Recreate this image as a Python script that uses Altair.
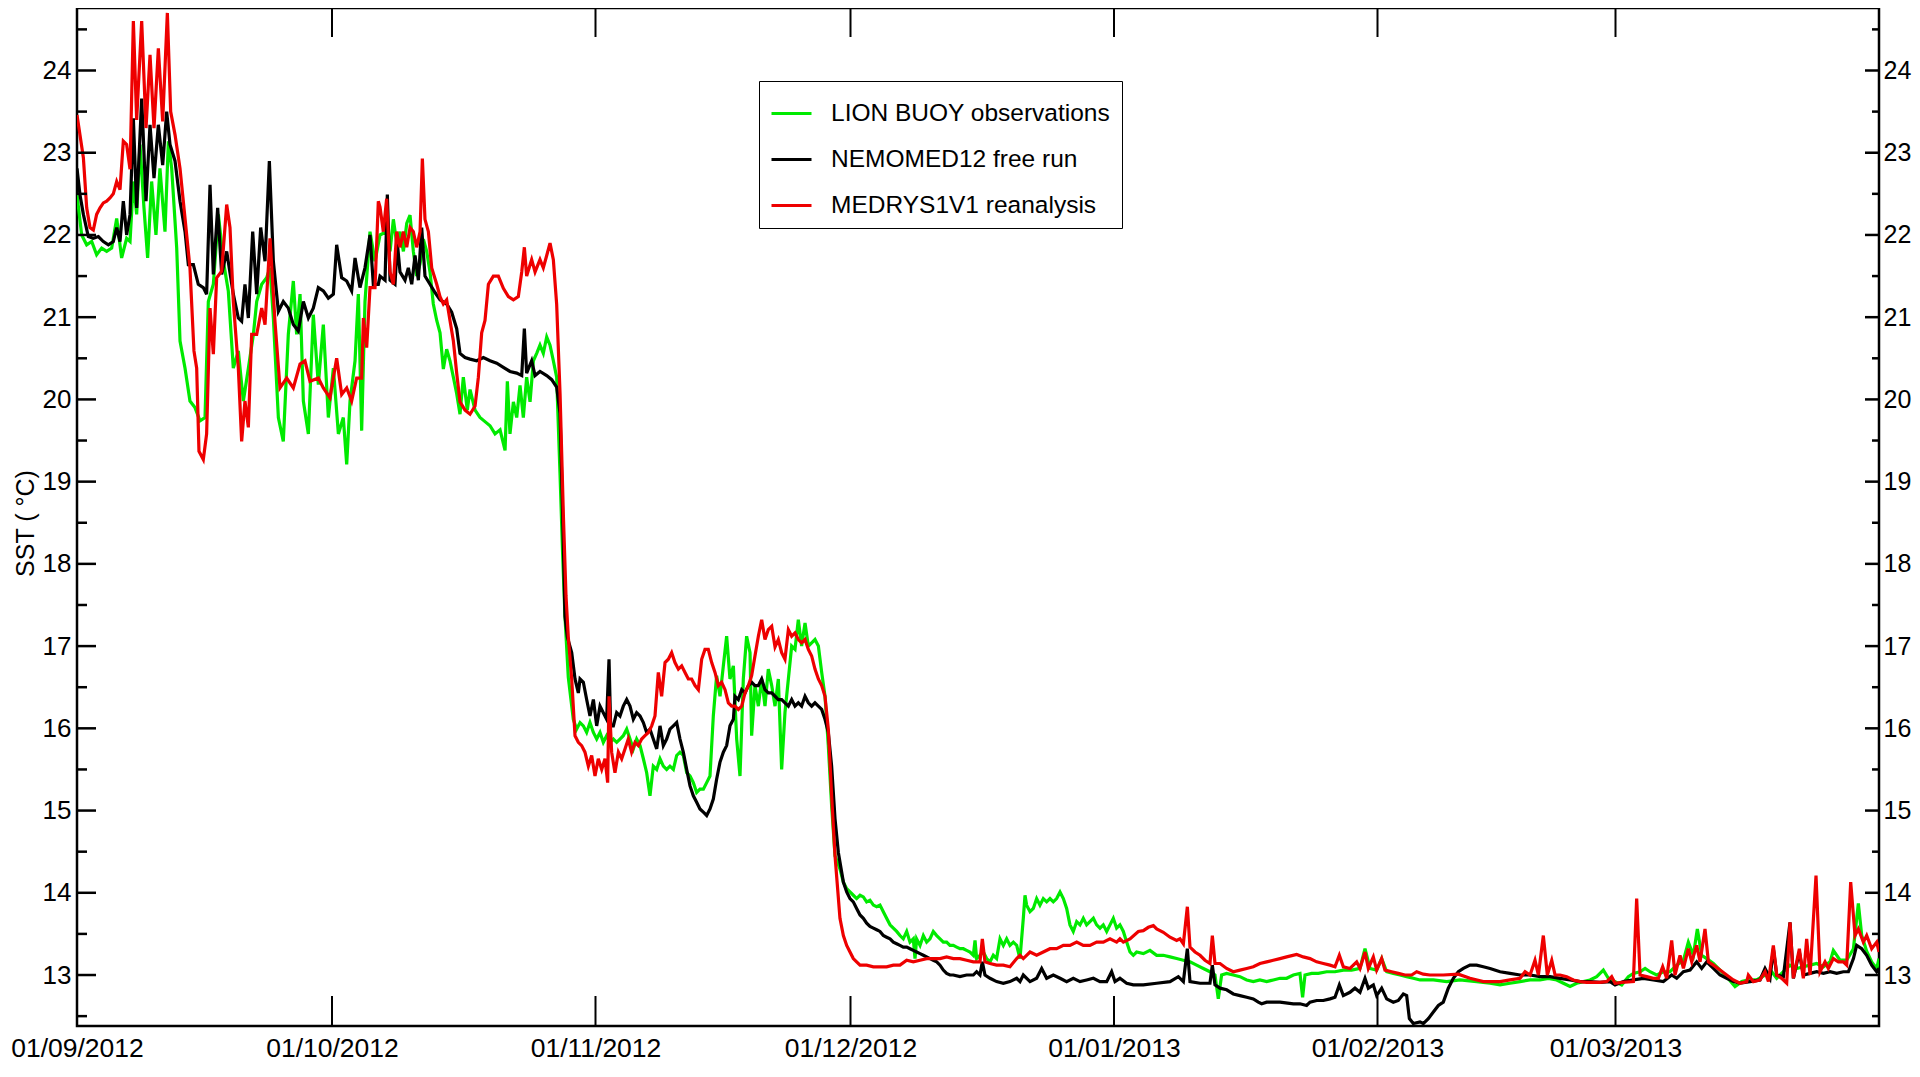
import altair as alt
import pandas as pd

# (days since 01/09/2012, SST in degC)
OBS = [
(0.0,22.49),(0.55,22.0),(1.14,21.88),(1.73,21.92),(2.31,21.76),(2.9,21.84),(3.49,21.8),(4.08,21.84),(4.67,22.2),(5.25,21.72),(5.84,21.96),(6.24,21.92),(6.63,22.65),(7.02,22.25),(7.41,23.1),(7.88,22.33),(8.31,21.72),(8.78,22.65),(9.29,22.0),(9.76,22.81),(10.35,22.04),(10.75,23.14),(11.14,22.81),(11.73,21.84),(12.12,20.71),(12.71,20.38),(13.29,19.98),(13.88,19.9),(14.47,19.74),(15.06,19.78),(15.45,21.19),(16.04,21.4),(16.63,22.25),(17.22,21.68),(17.8,21.32),(18.39,20.38),(18.98,20.59),(19.57,19.98),(20.16,20.38),(20.75,20.79),(21.14,21.19),(21.73,21.4),(22.31,21.48),(22.71,21.6),(23.1,20.99),(23.69,19.78),(24.27,19.49),(24.86,20.79),(25.45,21.44),(25.84,20.79),(26.24,21.28),(26.63,19.98),(27.22,19.58),(27.8,21.03),(28.39,20.18),(28.98,20.91),(29.57,19.78),(30.16,20.38),(30.75,19.58),(31.33,19.78),(31.73,19.21),(32.12,19.98),(32.71,20.47),(33.1,21.28),(33.49,19.62),(33.88,21.19),(34.47,22.04),(35.06,21.68),(35.65,22.0),
(36.43,22.04),(36.83,21.8),(37.22,22.19),(37.61,21.9),(38.0,22.04),(38.4,21.8),(38.79,22.14),(39.18,22.24),(39.57,21.8),(39.96,21.5),(40.36,21.65),(40.75,21.95),(41.14,21.8),(41.53,21.55),(41.92,21.16),(42.32,20.96),(42.71,20.81),(43.1,20.37),(43.49,20.61),(43.88,20.47),(44.28,20.27),(44.67,20.07),(45.06,19.82),(45.45,20.27),(45.92,19.87),(46.24,20.12),(46.83,19.87),(47.41,19.78),(48.0,19.73),(48.59,19.68),(49.18,19.58),(49.77,19.63),(50.36,19.38),(50.63,20.22),(50.94,19.58),(51.34,19.97),(51.73,19.78),(52.12,20.17),(52.51,19.78),(52.9,20.27),(53.3,19.97),(53.69,20.47),(54.08,20.56),(54.47,20.66),(54.86,20.56),(55.26,20.76),(55.65,20.66),(56.04,20.47),(56.43,20.27),(56.83,19.08),(57.14,18.1),(57.41,17.36),(57.8,16.62),
(58.39,16.11),(58.78,15.99),(59.18,16.07),(59.57,16.03),(59.96,15.95),(60.35,16.07),(60.75,15.95),(61.14,15.87),(61.53,15.95),(61.92,15.83),(62.31,15.91),(62.71,15.83),(63.1,15.87),(63.49,15.83),(63.88,15.87),(64.27,15.91),(64.67,15.99),(65.06,15.87),(65.45,15.75),(65.84,15.87),(66.24,15.79),(66.63,15.63),(67.02,15.46),(67.41,15.18),(67.8,15.54),(68.2,15.5),(68.59,15.63),(68.98,15.54),(69.37,15.5),(69.76,15.54),(70.16,15.5),(70.55,15.67),(70.94,15.71),(71.33,15.67),(71.73,15.46),(72.12,15.42),(72.51,15.34),(72.9,15.22),(73.29,15.26),(73.69,15.26),(74.08,15.34),(74.47,15.42),(74.86,16.15),(75.25,16.64),(75.65,16.39),(76.04,16.76),(76.43,17.12),(76.82,16.6),(77.22,16.76),(77.61,15.87),(78.0,15.42),(78.39,16.6),(78.78,17.12),(79.18,16.92),(79.37,15.91),(79.76,16.52),(80.16,16.27),(80.55,16.6),(80.94,16.27),(81.33,16.72),(81.73,16.52),(82.12,16.27),(82.51,16.6),(82.9,15.5),(83.29,16.19),(83.69,16.6),(84.08,17.0),(84.47,16.96),(84.86,17.32),(85.25,17.0),(85.65,17.28),(86.04,17.0),(86.43,17.04),(86.82,17.08),(87.22,17.0),(87.61,16.68),(88.0,16.39),(88.39,15.79),(88.78,15.06),(89.18,14.45),
(89.76,14.29),(90.16,14.13),(90.55,14.05),(90.94,14.01),(91.33,13.97),(91.72,13.93),(92.12,13.97),(92.51,13.95),(92.9,13.89),(93.29,13.91),(93.69,13.85),(94.08,13.83),(94.47,13.85),(94.86,13.77),(95.25,13.69),(95.65,13.61),(96.04,13.57),(96.43,13.53),(96.82,13.48),(97.21,13.44),(97.61,13.53),(98.0,13.4),(98.39,13.44),(98.59,13.2),(98.78,13.44),(99.18,13.36),(99.57,13.48),(99.96,13.4),(100.35,13.44),(100.74,13.53),(101.14,13.48),(101.53,13.44),(101.92,13.4),(102.31,13.4),(102.7,13.36),(103.1,13.36),(103.49,13.34),(103.88,13.32),(104.27,13.32),(104.66,13.3),(105.06,13.28),(105.45,13.24),(105.65,13.42),(105.84,13.2),(106.23,13.24),(106.62,13.28),(107.02,13.2),(107.41,13.16),(107.8,13.24),(108.19,13.2),(108.59,13.44),(108.98,13.36),(109.37,13.44),(109.76,13.36),(110.16,13.4),(110.55,13.36),(110.94,13.2),(111.33,13.69),(111.53,13.97),(111.72,13.85),(112.12,13.77),(112.51,13.81),(112.9,13.93),(113.29,13.85),(113.68,13.93),(114.08,13.89),(114.47,13.93),(114.86,13.89),(115.25,13.93),(115.65,14.01),(116.04,13.93),(116.43,13.81),(116.82,13.61),(117.21,13.53),(117.61,13.65),(118.0,13.61),(118.39,13.69),(118.78,13.61),(119.17,13.65),(119.57,13.69),(119.96,13.61),(120.35,13.57),(120.74,13.61),(121.14,13.53),(121.53,13.61),(121.92,13.69),(122.31,13.57),(122.7,13.61),(123.1,13.53),(123.49,13.4),(123.88,13.28),(124.27,13.24),
(124.66,13.28),(125.45,13.26),(126.23,13.3),(127.02,13.24),(127.8,13.24),(128.59,13.22),(129.37,13.2),(130.16,13.18),(130.94,13.16),(131.72,13.12),(132.51,13.08),(133.29,13.04),(133.88,13.0),(134.27,12.71),(134.66,13.0),(135.25,13.02),(136.04,13.0),(136.82,12.98),(137.61,12.94),(138.39,12.92),(139.17,12.94),(139.96,12.92),(140.74,12.94),(141.53,12.96),(142.31,12.96),(143.1,13.0),(143.88,13.02),(144.19,12.73),(144.47,13.0),(145.25,13.02),(146.04,13.02),(147.02,13.04),(148.0,13.04),(148.98,13.06),(149.96,13.06),(150.94,13.08),(151.53,13.32),(152.12,13.08),(152.9,13.06),(153.49,13.2),(154.08,13.04),(154.86,13.02),(155.65,13.0),(156.43,12.98),(157.21,12.96),(158.0,12.94),(159.57,12.94),(161.14,12.92),(162.7,12.94),(164.66,12.92),(166.24,12.9),
(167.42,12.88),(168.59,12.9),(169.77,12.92),(170.95,12.94),(172.12,12.94),(173.1,12.96),(174.08,12.94),(174.87,12.9),(175.65,12.86),(176.44,12.9),(177.22,12.92),(178.0,12.94),(178.79,12.98),(179.57,13.06),(180.16,12.96),(180.95,12.92),(181.73,12.88),(182.51,12.98),(183.1,13.02),(183.89,13.04),(184.48,13.08),(185.06,13.04),(185.85,13.0),(186.63,13.04),(187.42,13.04),(188.2,13.12),(188.99,13.18),(189.57,13.4),(190.16,13.24),(190.63,13.56),(191.14,13.24),(191.73,13.2),(192.52,13.14),(193.3,13.06),(194.08,12.98),(195.06,12.86),(195.85,12.92),(196.63,12.94),(197.61,12.94),(198.59,13.0),(199.38,13.04),(199.97,12.96),(200.75,13.04),(201.53,13.12),(202.32,13.08),(203.1,13.1),(203.89,13.12),(204.67,13.14),(205.46,13.1),(206.24,13.16),(206.63,13.3),(207.42,13.18),(208.2,13.18),(208.99,13.32),(209.57,13.87),(209.97,13.48),(210.55,13.29),(211.14,13.16),(211.73,13.08),(212.0,13.2),
]

NEMO = [
(0.0,22.81),(0.35,22.49),(0.75,22.25),(1.33,21.98),(1.92,21.96),(2.51,21.98),(3.1,21.92),(3.69,21.88),(4.27,21.92),(4.67,22.09),(5.06,21.92),(5.45,22.41),(5.84,22.0),(6.24,22.25),(6.63,23.42),(7.02,22.33),(7.61,23.66),(8.12,22.41),(8.59,23.34),(9.06,22.69),(9.57,23.34),(10.08,22.85),(10.55,23.5),(10.94,23.1),(11.53,22.9),(12.12,22.41),(12.71,22.04),(13.1,21.64),(13.69,21.64),(14.27,21.4),(14.86,21.36),(15.25,21.28),(15.65,22.61),(16.04,21.52),(16.55,22.33),(17.02,21.52),(17.61,21.8),(18.39,21.28),(18.98,20.99),(19.37,20.95),(19.76,21.4),(20.16,20.99),(20.67,22.04),(21.14,21.28),(21.61,22.09),(22.12,21.68),(22.63,22.9),(23.1,21.68),(23.69,21.07),(24.27,21.19),(24.86,21.11),(25.45,20.91),(26.04,20.83),(26.63,21.19),(27.22,20.99),(27.8,21.11),(28.39,21.36),(28.98,21.32),(29.57,21.23),(30.16,21.28),(30.55,21.88),(31.14,21.48),(31.73,21.44),(32.31,21.32),(32.71,21.72),(33.29,21.36),(33.88,21.6),(34.47,22.0),(34.86,21.4),(35.45,21.4),
(35.65,21.5),(36.24,21.45),(36.51,22.49),(36.83,21.45),(37.41,21.4),(37.69,21.9),(38.0,21.55),(38.59,21.45),(38.98,21.6),(39.38,21.4),(39.77,21.75),(40.16,21.45),(40.55,22.09),(40.94,21.5),(41.53,21.4),(42.12,21.3),(42.71,21.21),(43.49,21.16),(44.08,21.06),(44.67,20.86),(45.06,20.56),(45.65,20.51),(46.24,20.49),(47.02,20.47),(47.81,20.51),(48.59,20.47),(49.38,20.44),(50.16,20.39),(50.94,20.34),(51.73,20.32),(52.32,20.29),(52.63,20.86),(52.9,20.32),(53.49,20.47),(53.89,20.29),(54.47,20.34),(55.26,20.29),(55.85,20.24),(56.43,20.15),(56.83,19.83),(57.14,18.59),(57.41,17.36),(57.69,17.11),
(58.2,16.92),(58.59,16.6),(58.98,16.43),(59.18,16.6),(59.57,16.56),(59.96,16.35),(60.35,16.15),(60.75,16.35),(61.14,16.03),(61.53,16.27),(61.92,16.19),(62.31,16.11),(62.59,16.84),(62.78,16.03),(63.1,16.03),(63.49,16.19),(63.88,16.15),(64.27,16.27),(64.67,16.35),(65.06,16.27),(65.45,16.11),(65.84,16.19),(66.24,16.15),(66.63,16.07),(67.02,15.95),(67.41,15.99),(67.8,15.87),(68.2,15.75),(68.59,16.03),(68.98,15.79),(69.37,15.87),(69.76,15.99),(70.16,16.03),(70.55,16.07),(70.94,15.87),(71.33,15.71),(71.73,15.5),(72.12,15.3),(72.51,15.18),(72.9,15.1),(73.29,15.02),(73.69,14.98),(74.08,14.94),(74.47,15.02),(74.86,15.14),(75.25,15.38),(75.65,15.59),(76.04,15.71),(76.43,15.79),(76.82,16.03),(77.22,16.11),(77.41,16.39),(77.8,16.35),(78.2,16.47),(78.59,16.43),(78.98,16.52),(79.37,16.56),(79.76,16.52),(80.16,16.52),(80.55,16.6),(80.94,16.47),(81.33,16.43),(81.73,16.43),(82.12,16.39),(82.51,16.35),(82.9,16.35),(83.29,16.31),(83.69,16.27),(84.08,16.35),(84.47,16.27),(84.86,16.31),(85.25,16.27),(85.65,16.39),(86.04,16.31),(86.43,16.27),(86.82,16.31),(87.22,16.27),(87.61,16.23),(88.0,16.11),(88.39,15.95),(88.78,15.54),(89.18,14.9),(89.57,14.49),
(90.16,14.13),(90.55,14.01),(90.94,13.93),(91.33,13.89),(91.72,13.81),(92.12,13.73),(92.51,13.69),(92.9,13.63),(93.29,13.59),(93.69,13.57),(94.08,13.55),(94.47,13.53),(94.86,13.48),(95.25,13.46),(95.65,13.44),(96.04,13.4),(96.43,13.38),(96.82,13.36),(97.21,13.34),(97.61,13.34),(98.0,13.32),(98.39,13.3),(98.78,13.28),(99.18,13.26),(99.57,13.24),(99.96,13.22),(100.35,13.2),(100.74,13.18),(101.14,13.16),(101.53,13.12),(101.92,13.06),(102.31,13.02),(102.7,13.0),(103.1,13.0),(103.88,12.98),(104.66,13.0),(105.45,13.0),(105.84,13.04),(106.23,13.0),(106.51,13.16),(106.82,13.0),(107.41,12.96),(108.19,12.92),(108.98,12.9),(109.76,12.92),(110.55,12.96),(110.94,12.92),(111.33,13.0),(112.12,12.92),(112.9,12.96),(113.49,13.08),(114.08,12.96),(114.86,13.0),(115.65,12.96),(116.43,12.92),(117.21,12.96),(118.0,12.92),(118.78,12.94),(119.57,12.96),(120.35,12.92),(121.14,12.92),(121.72,13.04),(122.12,12.92),(122.7,12.96),(123.49,12.9),(124.27,12.88),
(125.45,12.88),(127.02,12.9),(128.59,12.92),(129.57,12.98),(130.16,12.92),(130.63,13.32),(130.94,12.92),(132.12,12.9),(133.29,12.9),(133.57,13.12),(133.88,12.88),(134.47,12.84),(135.25,12.82),(136.04,12.77),(136.82,12.75),(137.61,12.73),(138.39,12.71),(138.98,12.67),(139.37,12.65),(139.96,12.67),(141.53,12.67),(143.1,12.65),(143.88,12.65),(144.66,12.63),(145.06,12.67),(145.84,12.69),(146.63,12.69),(147.41,12.71),(148.0,12.73),(148.51,12.88),(148.98,12.75),(149.76,12.79),(150.35,12.84),(150.94,12.79),(151.53,12.96),(151.92,12.84),(152.51,12.88),(152.9,12.75),(153.49,12.84),(154.08,12.71),(154.86,12.67),(155.45,12.69),(156.04,12.77),(156.43,12.75),(156.75,12.47),(157.21,12.41),(158.0,12.43),(158.39,12.41),(158.98,12.47),(159.57,12.55),(160.16,12.63),(160.74,12.67),(161.33,12.84),(161.92,12.96),(162.51,13.04),(163.1,13.08),(163.88,13.12),(164.66,13.12),(165.45,13.1),
(166.24,13.08),(167.42,13.04),(168.59,13.02),(169.77,13.0),(170.95,13.0),(172.12,12.98),(173.3,12.98),(174.48,12.96),(175.65,12.94),(176.83,12.92),(178.0,12.92),(179.18,12.91),(180.36,12.92),(180.95,12.88),(181.93,12.92),(183.1,12.94),(184.28,12.96),(185.46,12.94),(186.63,12.92),(187.61,13.0),(188.2,12.96),(188.99,13.04),(189.77,13.06),(190.55,13.16),(191.14,13.08),(191.73,13.16),(192.52,13.08),(193.3,13.0),(194.08,12.96),(194.87,12.92),(195.65,12.9),(196.83,12.92),(198.0,12.94),(198.59,13.08),(199.18,12.96),(199.57,13.32),(199.97,13.0),(200.75,12.98),(201.53,13.64),(201.93,12.96),(202.63,13.28),(203.1,13.0),(203.89,13.02),(204.67,13.04),(205.46,13.02),(206.24,13.04),(207.02,13.02),(207.81,13.04),(208.4,13.04),(208.99,13.2),(209.37,13.36),(209.97,13.32),(210.55,13.24),(211.14,13.12),(211.73,13.04),(212.0,13.08),
]

MEDRYS = [
(0.0,23.46),(0.75,22.94),(1.14,22.33),(1.53,22.09),(1.92,22.06),(2.31,22.25),(2.71,22.33),(3.1,22.39),(3.49,22.41),(3.88,22.45),(4.27,22.5),(4.67,22.65),(5.06,22.55),(5.45,23.14),(5.84,23.1),(6.24,22.8),(6.63,24.6),(7.02,23.4),(7.61,24.6),(8.12,23.3),(8.59,24.19),(9.06,23.3),(9.57,24.27),(10.08,23.38),(10.63,24.7),(11.02,23.5),(11.53,23.22),(12.12,22.81),(12.71,22.2),(13.29,21.6),(13.76,20.59),(14.08,20.38),(14.35,19.37),(14.86,19.27),(15.25,19.58),(15.65,21.11),(16.04,20.55),(16.43,21.48),(17.02,21.56),(17.61,22.37),(18.0,22.09),(18.39,21.19),(18.98,20.38),(19.37,19.49),(19.76,19.98),(20.16,19.66),(20.55,20.79),(21.14,20.79),(21.73,21.11),(22.12,20.91),(22.71,21.96),(23.29,20.95),(23.88,20.14),(24.67,20.26),(25.45,20.14),(26.24,20.43),(26.82,20.47),(27.41,20.22),(28.39,20.26),(28.98,20.14),(29.76,20.02),(30.55,20.5),(31.14,20.06),(31.73,20.14),(32.31,19.98),(32.9,20.26),(33.49,20.26),(33.69,20.99),(34.08,20.63),(34.47,21.36),(35.06,21.36),(35.45,22.41),
(35.65,22.34),(36.04,22.04),(36.43,22.44),(36.83,21.55),(37.22,21.4),(37.61,22.04),(38.0,21.85),(38.4,22.04),(38.79,21.85),(39.18,22.09),(39.57,22.04),(39.96,21.85),(40.36,22.04),(40.63,22.93),(40.94,22.19),(41.34,22.04),(41.73,21.6),(42.32,21.4),(42.71,21.25),(43.1,21.16),(43.49,21.21),(43.88,20.96),(44.28,20.71),(44.67,20.32),(45.06,19.97),(45.65,19.87),(46.24,19.82),(46.83,19.92),(47.22,20.27),(47.61,20.81),(48.0,20.96),(48.4,21.4),(48.98,21.5),(49.57,21.5),(50.16,21.35),(50.75,21.25),(51.34,21.21),(51.92,21.25),(52.32,21.55),(52.63,21.85),(52.9,21.5),(53.49,21.7),(53.89,21.55),(54.47,21.7),(54.86,21.6),(55.26,21.75),(55.65,21.9),(56.04,21.7),(56.43,21.16),(56.83,20.07),(57.22,18.59),(57.53,17.61),(57.8,17.11),
(58.2,16.6),(58.59,15.91),(58.98,15.83),(59.37,15.79),(59.76,15.71),(60.16,15.54),(60.55,15.67),(60.94,15.42),(61.33,15.63),(61.73,15.5),(62.12,15.63),(62.43,15.34),(62.59,16.39),(62.9,15.71),(63.29,15.46),(63.69,15.71),(64.08,15.63),(64.47,15.75),(64.86,15.87),(65.25,15.71),(65.65,15.83),(66.04,15.79),(66.43,15.87),(66.82,15.91),(67.22,15.95),(67.61,16.03),(68.0,16.15),(68.39,16.68),(68.78,16.39),(69.18,16.8),(69.57,16.84),(69.96,16.92),(70.35,16.8),(70.75,16.72),(71.14,16.76),(71.53,16.68),(71.92,16.6),(72.31,16.6),(72.71,16.52),(73.1,16.47),(73.49,16.84),(73.88,16.96),(74.27,16.96),(74.67,16.8),(75.06,16.68),(75.45,16.52),(75.84,16.56),(76.24,16.47),(76.63,16.31),(77.02,16.27),(77.41,16.27),(77.8,16.23),(78.2,16.27),(78.59,16.43),(78.98,16.52),(79.37,16.64),(79.76,16.88),(80.16,17.12),(80.55,17.32),(80.94,17.08),(81.33,17.2),(81.73,17.24),(82.12,16.99),(82.51,17.08),(82.9,16.92),(83.29,16.84),(83.69,17.2),(84.08,17.12),(84.47,17.16),(84.86,17.08),(85.25,17.04),(85.65,17.08),(86.04,16.96),(86.43,16.88),(86.82,16.72),(87.22,16.6),(87.61,16.52),(88.0,16.39),(88.39,15.99),(88.78,15.18),(89.18,14.45),
(89.76,13.69),(90.16,13.48),(90.55,13.36),(90.94,13.28),(91.33,13.2),(91.72,13.16),(92.12,13.12),(92.9,13.12),(93.69,13.1),(94.47,13.1),(95.25,13.1),(96.04,13.12),(96.82,13.12),(97.61,13.18),(98.39,13.16),(99.18,13.18),(99.96,13.2),(100.74,13.2),(101.53,13.2),(102.31,13.22),(103.1,13.2),(103.88,13.2),(104.66,13.18),(105.45,13.16),(106.23,13.16),(106.51,13.44),(106.82,13.16),(107.41,13.14),(108.19,13.12),(108.98,13.12),(109.76,13.1),(110.55,13.2),(110.94,13.24),(111.33,13.2),(112.12,13.28),(112.9,13.24),(113.68,13.28),(114.47,13.32),(115.25,13.32),(116.04,13.36),(116.82,13.36),(117.61,13.4),(118.39,13.36),(119.17,13.36),(119.96,13.4),(120.74,13.4),(121.53,13.44),(122.31,13.4),(122.7,13.44),(123.1,13.4),(123.88,13.44),(124.86,13.53),
(125.45,13.54),(126.04,13.58),(126.63,13.6),(127.02,13.56),(127.8,13.52),(128.59,13.46),(129.37,13.42),(129.76,13.44),(130.16,13.38),(130.63,13.83),(130.94,13.34),(131.53,13.28),(132.12,13.24),(132.7,13.18),(133.29,13.14),(133.57,13.48),(133.88,13.14),(134.47,13.14),(135.25,13.08),(136.04,13.04),(136.82,13.06),(137.61,13.08),(138.39,13.1),(139.17,13.14),(139.96,13.16),(140.74,13.18),(141.53,13.2),(142.31,13.22),(143.49,13.25),(144.27,13.22),(145.06,13.2),(145.84,13.16),(146.63,13.14),(147.41,13.12),(148.0,13.1),(148.51,13.24),(148.98,13.1),(149.76,13.08),(150.55,13.16),(150.94,13.08),(151.53,13.28),(151.92,13.08),(152.51,13.22),(152.9,13.06),(153.49,13.2),(153.88,13.06),(154.66,13.04),(155.45,13.02),(156.23,13.0),(157.02,13.0),(157.61,13.04),(158.39,13.01),(159.17,13.0),(160.74,13.0),(162.51,13.01),(163.88,12.96),(165.45,12.92),
(166.24,12.92),(167.42,12.92),(168.59,12.94),(169.77,12.96),(170.36,13.04),(170.95,13.0),(171.53,13.18),(171.93,13.0),(172.51,13.48),(172.98,13.0),(173.5,13.18),(173.89,13.0),(174.48,13.0),(175.26,12.98),(176.04,12.94),(176.83,12.92),(177.61,12.91),(179.18,12.91),(179.97,12.92),(180.55,12.98),(180.95,12.9),(181.73,12.91),(183.1,12.92),(183.49,13.93),(183.89,13.0),(184.67,12.98),(185.46,12.96),(186.04,12.96),(186.55,13.1),(187.02,12.96),(187.61,13.42),(188.0,13.0),(188.59,13.24),(188.99,13.08),(189.57,13.32),(189.97,13.16),(190.55,13.36),(190.95,13.16),(191.53,13.56),(191.93,13.16),(192.52,13.12),(193.3,13.06),(194.08,13.0),(194.87,12.94),(195.65,12.9),(196.44,12.92),(196.63,13.0),(197.22,12.92),(198.0,12.94),(198.59,13.04),(198.99,12.92),(199.57,13.36),(199.97,13.0),(200.55,12.96),(201.14,12.9),(201.53,13.64),(201.93,12.96),(202.63,13.32),(203.1,12.96),(203.49,13.44),(203.89,13.0),(204.59,14.21),(205.06,13.04),(205.65,13.16),(206.04,13.08),(206.63,13.2),(207.22,13.16),(207.81,13.16),(208.2,13.12),(208.67,14.13),(209.18,13.48),(209.57,13.56),(210.16,13.4),(210.55,13.48),(211.14,13.32),(211.73,13.4),(212.0,13.28),
]

SERIES = ["LION BUOY observations", "NEMOMED12 free run", "MEDRYS1V1 reanalysis"]
COLORS = ["#00ea00", "#000000", "#ee0000"]
MONTHS = ["2012-09-01", "2012-10-01", "2012-11-01", "2012-12-01",
          "2013-01-01", "2013-02-01", "2013-03-01"]
Y_MAJOR = [13, 14, 15, 16, 17, 18, 19, 20, 21, 22, 23, 24]
Y_MINOR = [12.5, 13.5, 14.5, 15.5, 16.5, 17.5, 18.5, 19.5, 20.5, 21.5, 22.5, 23.5, 24.5]
Y_DOMAIN = [12.38, 24.76]

START = pd.Timestamp("2012-09-01")
FONT = "Liberation Sans, Arial, Helvetica, sans-serif"


def frame(pairs, name):
    d = pd.DataFrame(pairs, columns=["day", "sst"])
    d["date"] = START + pd.to_timedelta(d["day"], unit="D")
    d["series"] = name
    return d[["date", "sst", "series"]]


W, H = 1802, 1018

xscale = alt.Scale(domain=[alt.DateTime(year=2012, month=9, date=1),
                           alt.DateTime(year=2013, month=4, date=1)])
yscale = alt.Scale(domain=Y_DOMAIN, nice=False, zero=False)

legend = alt.Legend(
    title=None, orient="none", legendX=682, legendY=73,
    symbolType="stroke", symbolStrokeWidth=3, symbolSize=1600,
    labelFont=FONT, labelFontSize=24.5, labelColor="black", labelLimit=600,
    labelOffset=18, rowPadding=13, padding=11,
    strokeColor="black", fillColor="white",
)
color = alt.Color("series:N", scale=alt.Scale(domain=SERIES, range=COLORS), legend=legend)

xaxis = alt.Axis(
    values=[alt.DateTime(year=int(m[:4]), month=int(m[5:7]), date=1) for m in MONTHS],
    format="%d/%m/%Y", ticks=False, domain=False, grid=False, labelPadding=9,
    labelFont=FONT, labelFontSize=26.5, labelColor="black", labelFlush=False,
    labelOverlap=False, title=None,
)
yaxis_left = alt.Axis(
    orient="left", values=Y_MAJOR, ticks=False, domain=False, grid=False,
    labelPadding=6, labelFont=FONT, labelFontSize=26, labelColor="black",
    title="SST ( °C)", titleFont=FONT, titleFontSize=25, titleFontWeight="normal",
    titleColor="black", titleX=-39, titleY=515,
)
yaxis_right = alt.Axis(
    orient="right", values=Y_MAJOR, ticks=False, domain=False, grid=False,
    labelPadding=4, labelFont=FONT, labelFontSize=25, labelColor="black", title=None,
)


def line_layer(df, with_axes):
    return alt.Chart(df).mark_line(strokeWidth=3.2, clip=True).encode(
        x=alt.X("date:T", scale=xscale, axis=xaxis if with_axes else None),
        y=alt.Y("sst:Q", scale=yscale, axis=yaxis_left if with_axes else None),
        color=color,
    )


green = line_layer(frame(OBS, SERIES[0]), True)
black = line_layer(frame(NEMO, SERIES[1]), False)
red = line_layer(frame(MEDRYS, SERIES[2]), False)

ymaj = pd.DataFrame({"v": Y_MAJOR})
ymin = pd.DataFrame({"v": Y_MINOR})
months = pd.DataFrame({"date": pd.to_datetime(MONTHS[1:])})


def ytick(df, x0, x1, axis=None):
    return alt.Chart(df).mark_rule(color="black", strokeWidth=2.5).encode(
        y=alt.Y("v:Q", scale=yscale, axis=axis),
        x=alt.value(x0), x2=alt.value(x1),
    )


def xtick(y0, y1):
    return alt.Chart(months).mark_rule(color="black", strokeWidth=2).encode(
        x=alt.X("date:T", scale=xscale, axis=None),
        y=alt.value(y0), y2=alt.value(y1),
    )


chart = alt.layer(
    green, black, red,
    ytick(ymaj, 0, 19), ytick(ymin, 0, 10),
    ytick(ymaj, W - 14, W, yaxis_right), ytick(ymin, W - 7, W),
    xtick(H, H - 30), xtick(0, 29),
).resolve_axis(
    y="independent", x="independent"
).properties(
    width=W, height=H,
    autosize=alt.AutoSizeParams(type="none"),
    padding={"left": 69, "top": 0, "right": 33, "bottom": 37},
    background="white",
).configure_view(
    stroke="black", strokeWidth=2.5
)

chart.save("out.html", embed_options={"renderer": "svg", "actions": False})
